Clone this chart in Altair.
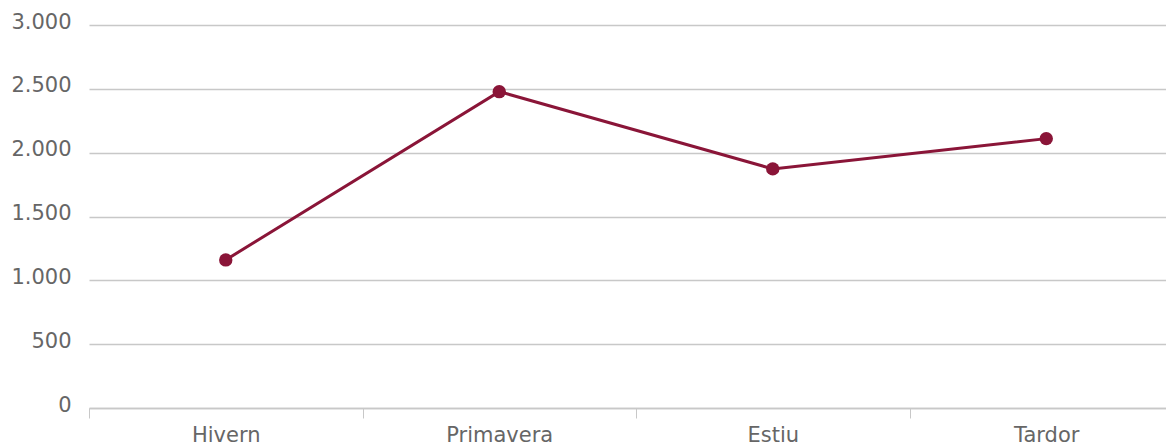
import altair as alt
import pandas as pd

seasons = ["Hivern", "Primavera", "Estiu", "Tardor"]
values = [1160, 2478, 1873, 2110]

df = pd.DataFrame({"season": seasons, "value": values})

color = "#8a1538"
font = "DejaVu Sans"

base = alt.Chart(df).encode(
    x=alt.X(
        "season:N",
        sort=seasons,
        bandPosition=0.5,
        scale=alt.Scale(type="band", paddingInner=0, paddingOuter=0),
        axis=alt.Axis(
            title=None,
            labelAngle=0,
            tickBand="extent",
            grid=False,
            domainColor="#c8c8c8",
            domainWidth=1.5,
            tickColor="#c8c8c8",
            tickSize=10,
            tickWidth=1,
            labelFont=font,
            labelFontSize=21,
            labelColor="#666666",
            labelPadding=6,
        ),
    ),
    y=alt.Y(
        "value:Q",
        scale=alt.Scale(domain=[0, 3000]),
        axis=alt.Axis(
            title=None,
            values=[0, 500, 1000, 1500, 2000, 2500, 3000],
            labelExpr="replace(format(datum.value, ','), ',', '.')",
            domain=False,
            ticks=False,
            gridColor="#c8c8c8",
            gridWidth=1.5,
            labelFont=font,
            labelFontSize=21,
            labelColor="#666666",
            labelPadding=18,
            labelOffset=-3,
        ),
    ),
)

line = base.mark_line(color=color, strokeWidth=3)
points = base.mark_circle(color=color, size=180, opacity=1)

chart = (
    alt.layer(line, points)
    .properties(
        width=1094,
        height=383,
        autosize=alt.AutoSizeParams(type="none"),
        padding={"left": 81, "top": 17, "right": -17, "bottom": 40},
    )
    .configure_view(stroke=None)
)

chart.save("out.html", embed_options={"renderer": "svg", "actions": False})
